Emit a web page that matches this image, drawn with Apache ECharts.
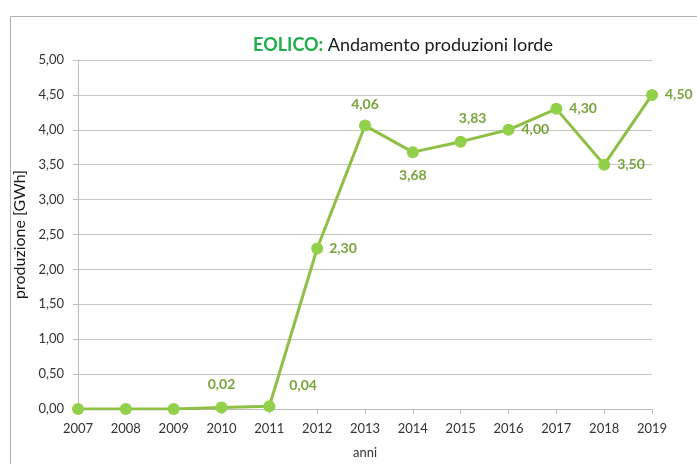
<!DOCTYPE html>
<html>
<head>
<meta charset="utf-8">
<script src="https://cdn.jsdelivr.net/npm/echarts@6/dist/echarts.min.js"></script>
<style>
  html, body { margin: 0; padding: 0; background: #fff; }
  #chart { width: 697px; height: 464px; }
</style>
</head>
<body>
<div id="chart"></div>
<script>
const years = ['2007', '2008', '2009', '2010', '2011', '2012', '2013', '2014', '2015', '2016', '2017', '2018', '2019']
const produzione = [0, 0, 0, 0.02, 0.04, 2.30, 4.06, 3.68, 3.83, 4.00, 4.30, 3.50, 4.50]
const yTicks = [0, 0.5, 1, 1.5, 2, 2.5, 3, 3.5, 4, 4.5, 5]

const fmt = v => v.toFixed(2).replace('.', ',')

// label placement per point (null = no label)
const labelPlace = [
  null, null, null,
  { position: 'top', distance: 10 },
  { position: 'right', distance: 14, offset: [0, -21] },
  { position: 'right', distance: 6 },
  { position: 'top', distance: 8 },
  { position: 'bottom', distance: 10 },
  { position: 'top', distance: 10, offset: [12, 0] },
  { position: 'right', distance: 7 },
  { position: 'right', distance: 7 },
  { position: 'right', distance: 7 },
  { position: 'right', distance: 7 }
]

const chart = echarts.init(document.getElementById('chart'))
const font = 'Lato, "Open Sans", sans-serif'
const labelColor = '#77a33a'

const option = {
  animation: false,
  textStyle: { fontFamily: font },
  graphic: [{
    type: 'rect',
    left: 8,
    top: 14,
    shape: { width: 720, height: 480 },
    style: { fill: 'none', stroke: '#b0b0b0', lineWidth: 1 },
    silent: true
  }],
  title: {
    text: '{g|EOLICO:} {k|Andamento produzioni lorde}',
    left: 398,
    top: 31,
    textAlign: 'center',
    textStyle: {
      fontWeight: 'normal',
      rich: {
        g: { color: '#1fae4b', fontWeight: 'bold', fontSize: 18, fontFamily: font },
        k: { color: '#1a1a1a', fontWeight: 'normal', fontSize: 18, fontFamily: font }
      }
    }
  },
  grid: { left: 78, right: 45, top: 60, bottom: 48, containLabel: false },
  xAxis: {
    type: 'category',
    data: years,
    boundaryGap: false,
    name: 'anni',
    nameLocation: 'middle',
    nameGap: 37,
    nameTextStyle: { color: '#333', fontSize: 13, fontFamily: font },
    axisLine: { lineStyle: { color: '#bdbdbd', width: 1 } },
    axisTick: { show: true, length: 5, lineStyle: { color: '#bdbdbd' } },
    axisLabel: { color: '#333', fontSize: 13, margin: 13, fontFamily: font }
  },
  yAxis: {
    type: 'value',
    min: yTicks[0],
    max: yTicks[yTicks.length - 1],
    interval: 0.5,
    name: 'produzione [GWh]',
    nameLocation: 'middle',
    nameGap: 43,
    nameTextStyle: { color: '#1a1a1a', fontSize: 16, fontFamily: font },
    axisLine: { show: true, lineStyle: { color: '#bdbdbd', width: 1 } },
    axisTick: { show: true, length: 5, inside: false, lineStyle: { color: '#bdbdbd' } },
    splitLine: { lineStyle: { color: '#c4c4c4', width: 1 } },
    axisLabel: { color: '#333', fontSize: 13, margin: 14, formatter: fmt, fontFamily: font }
  },
  series: [{
    type: 'line',
    data: produzione.map((v, i) => {
      const p = labelPlace[i]
      return {
        value: v,
        label: p ? Object.assign({ show: true }, p) : { show: false }
      }
    }),
    symbol: 'circle',
    symbolSize: 12,
    lineStyle: { color: '#8fc045', width: 3 },
    itemStyle: { color: '#92cf4a' },
    label: {
      color: labelColor,
      fontSize: 14,
      fontWeight: 'bold',
      fontFamily: font,
      formatter: p => fmt(p.value)
    },
    z: 3
  }]
}

chart.setOption(option)
</script>
</body>
</html>
